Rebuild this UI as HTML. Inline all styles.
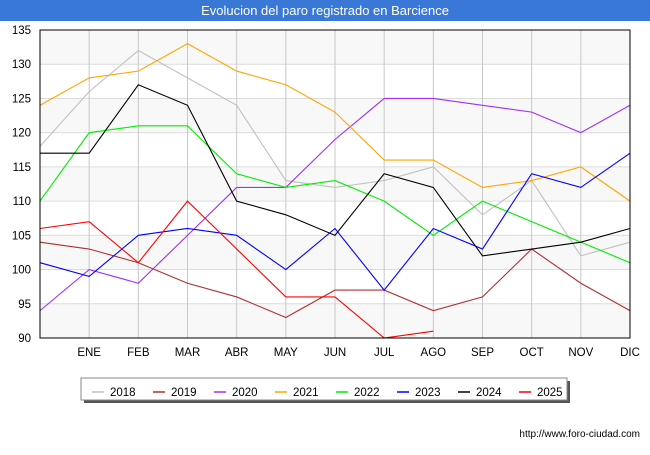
<!DOCTYPE html>
<html><head><meta charset="utf-8"><style>
body{margin:0;width:650px;height:450px;background:#fff;font-family:"Liberation Sans",sans-serif;overflow:hidden}
</style></head><body>
<svg width="650" height="450" id="c" font-family="Liberation Sans, sans-serif">
<rect x="0" y="0" width="650" height="21" fill="#3a78d8"/>
<text x="325" y="15" text-anchor="middle" fill="#fff" font-size="13">Evolucion del paro registrado en Barcience</text>
<g id="plot"></g>
<text x="640" y="437" text-anchor="end" font-size="10" fill="#000">http://www.foro-ciudad.com</text>
</svg>
<script>
const months=["","ENE","FEB","MAR","ABR","MAY","JUN","JUL","AGO","SEP","OCT","NOV","DIC"];
const yTicks=[90,95,100,105,110,115,120,125,130,135];
const years=["2018","2019","2020","2021","2022","2023","2024","2025"];
const colors=["#c0c0c0","#b03030","#a030f0","#ffa500","#00ee00","#0000ff","#000000","#ff0000"];
const s2018=[118,126,132,128,124,113,112,113,115,108,113,102,104];
const s2019=[104,103,101,98,96,93,97,97,94,96,103,98,94];
const s2020=[94,100,98,105,112,112,119,125,125,124,123,120,124];
const s2021=[124,128,129,133,129,127,123,116,116,112,113,115,110];
const s2022=[110,120,121,121,114,112,113,110,105,110,107,104,101];
const s2023=[101,99,105,106,105,100,106,97,106,103,114,112,117];
const s2024=[117,117,127,124,110,108,105,114,112,102,103,104,106];
const s2025=[106,107,101,110,103,96,96,90,91];
const series=[s2018,s2019,s2020,s2021,s2022,s2023,s2024,s2025];
const L=40,R=630,T=30,B=338,ymin=90,ymax=135;
const X=i=>L+i*(R-L)/12, Y=v=>B-(v-ymin)*(B-T)/(ymax-ymin);
const g=document.getElementById('plot'),NS="http://www.w3.org/2000/svg";
function mk(t,a){const e=document.createElementNS(NS,t);for(const k in a)e.setAttribute(k,a[k]);g.appendChild(e);return e;}
for(let i=0;i<yTicks.length-1;i++){if(i%2==0){const r=mk('rect',{x:L,y:Y(yTicks[i+1]),width:R-L,height:Y(yTicks[i])-Y(yTicks[i+1]),fill:'#f8f8f8'});

}}
yTicks.forEach(v=>{const l=mk('line',{x1:L,x2:R,y1:Y(v),y2:Y(v),stroke:'#dcdcdc'});


const t=mk('text',{x:L-9,y:Y(v)+4,'text-anchor':'end','font-size':'11.5'});t.textContent=v;

});
months.forEach((m,i)=>{if(i>0){const l=mk('line',{x1:X(i),x2:X(i),y1:T,y2:B,stroke:'#c8c8c8'});

}
const t=mk('text',{x:X(i),y:B+18,'text-anchor':'middle','font-size':'11.5'});t.textContent=m;

});
series.forEach((s,k)=>{const p=mk('polyline',{points:s.map((v,i)=>X(i)+','+Y(v)).join(' '),fill:'none',stroke:colors[k],'stroke-width':1.1});

});
const fr=mk('rect',{x:L,y:T,width:R-L,height:B-T,fill:'none',stroke:'#000','stroke-width':1});


const sh=mk('rect',{x:84,y:381,width:486,height:22,fill:'#555'});


const lb=mk('rect',{x:81,y:378,width:486,height:22,fill:'#fff',stroke:'#888'});


years.forEach((y,k)=>{const x0=92+k*61;
const l=mk('line',{x1:x0,x2:x0+12,y1:392,y2:392,stroke:colors[k],'stroke-width':1.5});


const t=mk('text',{x:x0+18,y:396,'font-size':'11.5'});t.textContent=y;

});
</script>
</body></html>
